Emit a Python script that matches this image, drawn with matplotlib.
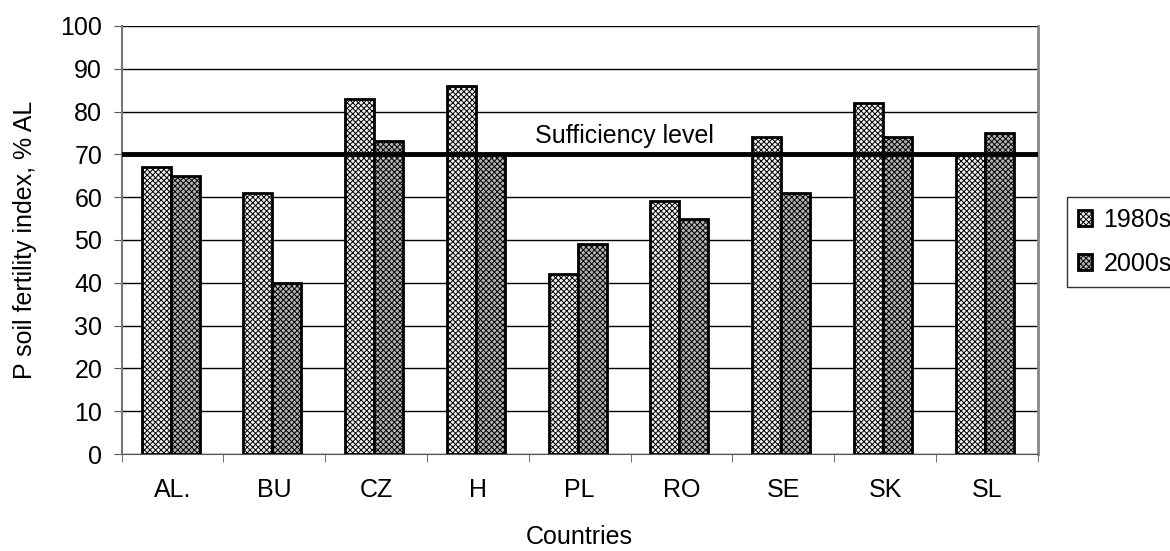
import numpy as np
import matplotlib
matplotlib.use('Agg')
import matplotlib.pyplot as plt

countries = ['AL.', 'BU', 'CZ', 'H', 'PL', 'RO', 'SE', 'SK', 'SL']
val_1980s = [67, 61, 83, 86, 42, 59, 74, 82, 70]
val_2000s = [65, 40, 73, 70, 49, 55, 61, 74, 75]
sufficiency = 70

plt.rcParams['font.family'] = ['Liberation Sans', 'DejaVu Sans']
plt.rcParams['hatch.linewidth'] = 0.7

fig = plt.figure(figsize=(11.7, 5.51), dpi=100)
ax = fig.add_axes([0.104, 0.176, 0.783, 0.777])

x = np.arange(len(countries))
w = 0.285
with plt.rc_context({'hatch.color': '#8a8a8a'}):
    b1 = ax.bar(x - w / 2 - 0.02, val_1980s, w, color='#f0f0f0', edgecolor='black',
                linewidth=2, hatch='xxxxxx', zorder=3, label='1980s')
with plt.rc_context({'hatch.color': '#3c3c3c'}):
    b2 = ax.bar(x + w / 2 - 0.02, val_2000s, w, color='#b4b4b4', edgecolor='black',
                linewidth=2, hatch='xxxxxx', zorder=3, label='2000s')

ax.axhline(sufficiency, color='black', linewidth=3.5, zorder=4)
ax.text(4.44, sufficiency + 2.7, 'Sufficiency level', ha='center', va='baseline',
        fontsize=18)

ax.set_xlim(-0.5, len(countries) - 0.5)
ax.set_ylim(0, 100)
ax.set_yticks(range(0, 101, 10))
ax.yaxis.grid(True, color='black', linewidth=1)
ax.set_axisbelow(True)

ax.set_xticks(x)
ax.set_xticklabels(countries, fontsize=18)
ax.set_xticks(np.arange(-0.5, len(countries)), minor=True)
ax.tick_params(axis='x', which='major', length=0, pad=17)
ax.tick_params(axis='x', which='minor', length=6, color='#555555')
ax.tick_params(axis='y', labelsize=18, length=6, pad=8, color='#555555')

ax.spines['top'].set_visible(False)
ax.spines['right'].set_color('#888888')
ax.spines['right'].set_linewidth(2)
ax.spines['left'].set_color('#777777')
ax.spines['left'].set_linewidth(1.5)
ax.spines['bottom'].set_color('#555555')

ax.set_xlabel('Countries', fontsize=18, labelpad=17)
ax.set_ylabel('P soil fertility index, % AL', fontsize=18)
ax.yaxis.set_label_coords(-0.092, 0.5)

leg = fig.legend(handles=[b1, b2], loc='lower left',
                 bbox_to_anchor=(1067 / 1170, 1 - 287 / 551),
                 fontsize=18, frameon=True, fancybox=False,
                 handlelength=0.56, handleheight=0.56, handletextpad=0.45,
                 labelspacing=0.8, borderpad=0.45, borderaxespad=0)
leg.get_frame().set_edgecolor('black')
leg.get_frame().set_linewidth(1)

fig.savefig('out.png', dpi=100)
